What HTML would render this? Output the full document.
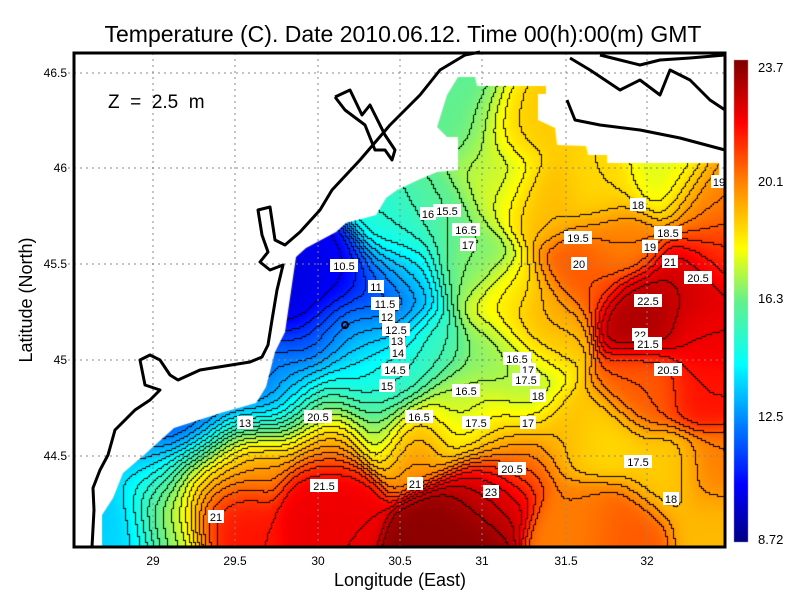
<!DOCTYPE html>
<html><head><meta charset="utf-8"><style>
html,body{margin:0;padding:0;background:#fff;width:800px;height:600px;overflow:hidden}
#c{position:absolute;left:0;top:0}
svg{position:absolute;left:0;top:0}
text{font-family:"Liberation Sans",sans-serif}
</style></head><body>
<canvas id="c" width="800" height="600"></canvas>
<svg width="800" height="600" xmlns="http://www.w3.org/2000/svg">
<g stroke="#888" stroke-width="1" stroke-dasharray="2,4">
<line x1="153" y1="53" x2="153" y2="547"/><line x1="235" y1="53" x2="235" y2="547"/><line x1="318" y1="53" x2="318" y2="547"/><line x1="400" y1="53" x2="400" y2="547"/><line x1="482" y1="53" x2="482" y2="547"/><line x1="566" y1="53" x2="566" y2="547"/><line x1="647" y1="53" x2="647" y2="547"/>
<line x1="68" y1="73" x2="725" y2="73"/><line x1="68" y1="168" x2="725" y2="168"/><line x1="68" y1="264" x2="725" y2="264"/><line x1="68" y1="360" x2="725" y2="360"/><line x1="68" y1="456" x2="725" y2="456"/>
</g>
<g fill="none" stroke="#000" stroke-width="3" stroke-linejoin="round">
<polyline points="92,547 94,510 93,488 100,470 108,455 115,430 135,410 150,400 160,390 145,385 140,360 150,355 160,360 170,375 178,380 200,370 250,362 262,357 268,345 272,320 277,290 283,265 270,270 260,262 268,252 262,235 258,210 270,207 275,240 285,245 300,232 320,210 332,190 360,160 390,125 420,95 440,70 465,55 480,52"/>
<polyline points="335,97 350,90 362,115 370,105 385,135 395,150 392,160 385,150 375,150 365,125 345,110 335,97"/>
<polyline points="570,58 590,70 620,90 640,80 660,95 670,70 690,80 710,100 725,110"/>
<polyline points="567,100 575,120 600,125 640,130 680,138 725,150"/>
<polyline points="600,55 620,60 640,65 660,60 690,58 725,55"/>
<circle cx="345" cy="325" r="3" stroke-width="2"/>
</g>
<g id="labs" font-size="11" text-anchor="middle"></g>
<rect x="74" y="53" width="651" height="494" fill="none" stroke="#000" stroke-width="3"/>
<g font-size="12" fill="#000" text-anchor="middle">
<text x="153" y="565">29</text><text x="235" y="565">29.5</text><text x="318" y="565">30</text><text x="400" y="565">30.5</text><text x="482" y="565">31</text><text x="566" y="565">31.5</text><text x="647" y="565">32</text>
</g>
<g font-size="12" fill="#000" text-anchor="end">
<text x="67" y="77">46.5</text><text x="67" y="172">46</text><text x="67" y="268">45.5</text><text x="67" y="364">45</text><text x="67" y="460">44.5</text>
</g>
<g font-size="13" fill="#000">
<text x="758" y="72">23.7</text><text x="758" y="186">20.1</text><text x="758" y="303">16.3</text><text x="758" y="421">12.5</text><text x="758" y="544">8.72</text>
</g>
<text x="400" y="586" font-size="18" text-anchor="middle">Longitude (East)</text>
<text x="32" y="300" font-size="18" text-anchor="middle" transform="rotate(-90 32 300)">Latitude (North)</text>
<text x="403" y="42" font-size="23" text-anchor="middle">Temperature (C). Date 2010.06.12. Time 00(h):00(m) GMT</text>
<text x="108" y="108" font-size="19" xml:space="preserve">Z  =  2.5  m</text>
</svg>
<script>
var ctx=document.getElementById('c').getContext('2d');
var stops=[[0,[0,0,130]],[0.12,[0,0,255]],[0.37,[0,255,255]],[0.5,[100,240,140]],[0.61,[255,255,0]],[0.75,[255,128,0]],[0.87,[255,0,0]],[1,[128,0,0]]];
function cmap(v){var t=(v-8.72)/(23.7-8.72);t=Math.max(0,Math.min(1,t));for(var i=1;i<stops.length;i++){if(t<=stops[i][0]){var a=stops[i-1],b=stops[i],f=(t-a[0])/(b[0]-a[0]);return [0,1,2].map(function(k){return Math.round(a[1][k]+(b[1][k]-a[1][k])*f)});}}return stops[stops.length-1][1];}
var P=[[330,275,10.3],[380,290,11],[385,330,12.5],[340,330,12],[300,300,10],[300,400,12],[350,380,14.5],[390,380,15],[420,350,15.5],[400,230,15],[440,210,16],[460,120,16],[490,160,17],[520,120,18.5],[540,200,19],[470,260,16.5],[510,300,18],[540,320,19.5],[496,355,16.5],[538,338,18.5],[580,272,20.5],[643,315,23],[706,332,22],[706,388,21.5],[643,388,20.5],[664,472,18.7],[601,438,18.5],[601,188,18.5],[664,178,17.5],[706,205,20],[517,405,17],[517,455,20.5],[454,528,23.5],[487,488,22.5],[327,488,22],[222,505,21.5],[327,438,20.5],[412,438,20],[159,522,17],[121,528,13],[184,438,11],[264,408,11],[294,388,13],[311,405,18],[580,522,20],[719,522,19],[622,528,20.5],[391,372,15],[454,405,16.5],[475,415,17.5],[496,428,19],[517,372,17],[496,188,17.5],[517,122,19],[475,115,16.5],[466,88,16],[403,272,14],[361,345,14],[348,388,13.5],[306,355,11.5],[380,420,16],[440,425,18.5],[250,450,20],[200,470,19],[150,480,15],[720,250,21],[690,280,22.5],[620,240,20],[560,430,19],[720,470,20],
[150,465,12],[200,432,11.5],[240,415,11.5],[280,398,12],[170,492,18],[215,458,19.5],[260,434,20],[300,422,20],[340,412,18],[115,505,13.5],[110,540,14]];
var W=800,H=600,img=ctx.createImageData(W,H),d=img.data;
var S=2,GX=Math.ceil(652/S)+1,GY=Math.ceil(495/S)+1,V=new Float32Array(GX*GY);
for(var j=0;j<GY;j++)for(var i=0;i<GX;i++){var x=74+i*S,y=53+j*S,s=0,w=0;for(var k=0;k<P.length;k++){var dx=x-P[k][0],dy=y-P[k][1],r=dx*dx+dy*dy;var ww=Math.exp(-r/(2*22*22))+1e-7/(r+50);s+=ww*P[k][2];w+=ww;}V[j*GX+i]=s/w;}
function setp(px,py,c){if(px<0||py<0||px>=W||py>=H)return;var o=(py*W+px)*4;d[o]=c[0];d[o+1]=c[1];d[o+2]=c[2];d[o+3]=255;}
for(var j=0;j<GY;j++)for(var i=0;i<GX;i++){var c=cmap(V[j*GX+i]);for(var yy=0;yy<S;yy++)for(var xx=0;xx<S;xx++)setp(74+i*S+xx,53+j*S+yy,c);}
var K=[0,0,0];
for(var j=0;j<GY;j++)for(var i=0;i<GX;i++){var lv=Math.floor(V[j*GX+i]*2),bx=74+i*S,by=53+j*S;
if(i+1<GX&&Math.floor(V[j*GX+i+1]*2)!=lv){setp(bx+1,by,K);setp(bx+1,by+1,K);}
if(j+1<GY&&Math.floor(V[(j+1)*GX+i]*2)!=lv){setp(bx,by+1,K);setp(bx+1,by+1,K);}}
var off=document.createElement('canvas');off.width=W;off.height=H;off.getContext('2d').putImageData(img,0,0);
var poly=[[102,547],[102,515],[113,498],[123,473],[144,455],[174,428],[224,412],[256,403],[266,387],[275,352],[285,332],[296,257],[306,248],[336,232],[346,223],[376,215],[386,198],[397,190],[418,180],[437,172],[458,170],[458,137],[447,137],[437,127],[447,95],[458,77],[475,77],[477,86],[546,86],[546,94],[538,94],[538,120],[555,128],[557,145],[586,146],[588,155],[607,155],[607,163],[719,163],[719,185],[725,185],[725,547]];
ctx.save();ctx.beginPath();ctx.moveTo(poly[0][0],poly[0][1]);for(var i=1;i<poly.length;i++)ctx.lineTo(poly[i][0],poly[i][1]);ctx.closePath();ctx.clip();ctx.drawImage(off,0,0);ctx.restore();
for(var y=60;y<542;y++){var c=cmap(23.7-(y-60)/482*(23.7-8.72));ctx.fillStyle='rgb('+c+')';ctx.fillRect(734,y,14,1);}
var L=[[344,266,"10.5"],[376,287,"11"],[385,304,"11.5"],[387,317,"12"],[396,330,"12.5"],[397,341,"13"],[398,353,"14"],[395,370,"14.5"],[387,386,"15"],[447,211,"15.5"],[428,214,"16"],[466,230,"16.5"],[468,245,"17"],[578,238,"19.5"],[579,264,"20"],[638,205,"18"],[668,233,"18.5"],[650,247,"19"],[670,262,"21"],[698,278,"20.5"],[648,301,"22.5"],[640,335,"22"],[648,344,"21.5"],[668,370,"20.5"],[517,359,"16.5"],[528,370,"17"],[526,380,"17.5"],[538,396,"18"],[466,391,"16.5"],[476,423,"17.5"],[528,423,"17"],[419,417,"16.5"],[318,417,"20.5"],[245,423,"13"],[512,469,"20.5"],[415,484,"21"],[324,486,"21.5"],[216,517,"21"],[638,462,"17.5"],[671,499,"18"],[491,492,"23"],[719,182,"19"]];
var g=document.getElementById('labs'),ns="http://www.w3.org/2000/svg";
L.forEach(function(l){var r=document.createElementNS(ns,'rect');var w=l[2].length*6+4;r.setAttribute('x',l[0]-w/2);r.setAttribute('y',l[1]-7);r.setAttribute('width',w);r.setAttribute('height',13);r.setAttribute('fill','#fff');g.appendChild(r);var t=document.createElementNS(ns,'text');t.setAttribute('x',l[0]);t.setAttribute('y',l[1]+4);t.textContent=l[2];g.appendChild(t);});
</script>
</body></html>
